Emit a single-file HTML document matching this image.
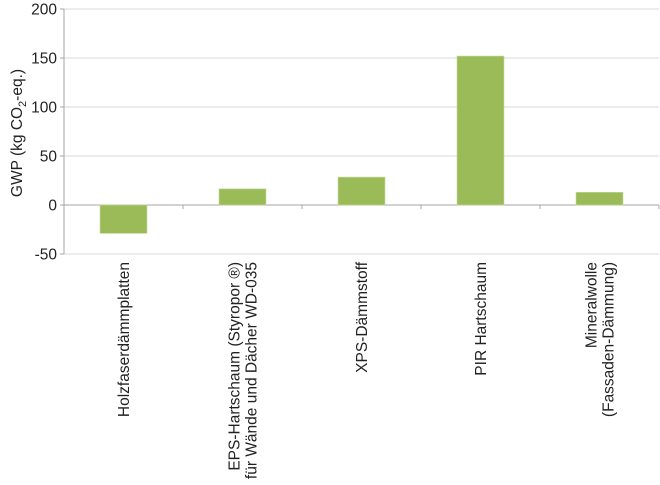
<!DOCTYPE html>
<html><head><meta charset="utf-8"><style>
body{margin:0;background:#fff;}
svg{display:block;font-family:"Liberation Sans",Arial,sans-serif;}
</style></head><body>
<svg id="chart" width="660" height="485"></svg>
<script>
const categories=[["Holzfaserdämmplatten"],["EPS-Hartschaum (Styropor ®)","für Wände und Dächer WD-035"],["XPS-Dämmstoff"],["PIR Hartschaum"],["Mineralwolle","(Fassaden-Dämmung)"]];
const values=[-29,16.5,28.5,152,13];
const yTicks=[-50,0,50,100,150,200];
const NS="http://www.w3.org/2000/svg";
const svg=document.getElementById('chart');
const x0=64,x1=659,bw=(x1-x0)/categories.length;
const y=v=>205-v*0.98;
function mk(t,a){const e=document.createElementNS(NS,t);for(const k in a)e.setAttribute(k,a[k]);svg.appendChild(e);return e;}
yTicks.forEach(t=>{
 const g=mk('line',{x1:x0,x2:x1,y1:y(t),y2:y(t),stroke:t===0?'#a6a6a6':'#d9d9d9','stroke-width':1});
 
 
 const tk=mk('line',{x1:x0-4,x2:x0,y1:y(t),y2:y(t),stroke:'#a6a6a6'});
 
 
 const l=mk('text',{x:x0-7,y:y(t)+5.5,'text-anchor':'end','font-size':15.5,fill:'#222'});
 l.textContent=t;
 
 
});
const ax=mk('line',{x1:x0,x2:x0,y1:y(200),y2:y(-50),stroke:'#a6a6a6'});


for(let i=0;i<=categories.length;i++){
 const t=mk('line',{x1:x0+i*bw,x2:x0+i*bw,y1:205,y2:209,stroke:'#a6a6a6'});
 
 
}
categories.forEach((c,i)=>{
 const v=values[i];
 const bx=x0+i*bw+36;
 const r=mk('rect',{x:bx,y:Math.min(y(v),y(0)),width:47,height:Math.abs(y(v)-y(0)),fill:'#9bbb59',stroke:'#c5dca0','stroke-width':0.6});
 
 
 const cx=x0+i*bw+bw/2;
 const n=c.length;
 c.forEach((line,j)=>{
  const lx=cx+5.5-(n-1)*8.5+j*17;
  const t=mk('text',{x:0,y:0,transform:`translate(${lx},262) rotate(-90)`,'text-anchor':'end','font-size':15.5,fill:'#222'});
  t.textContent=line;
  
  
 });
});
const yt=mk('text',{transform:'translate(22,133) rotate(-90)','text-anchor':'middle','font-size':15.5,fill:'#222'});
yt.innerHTML='GWP (kg CO<tspan font-size="11" dy="4">2</tspan><tspan dy="-4">-eq.)</tspan>';


</script>
</body></html>
